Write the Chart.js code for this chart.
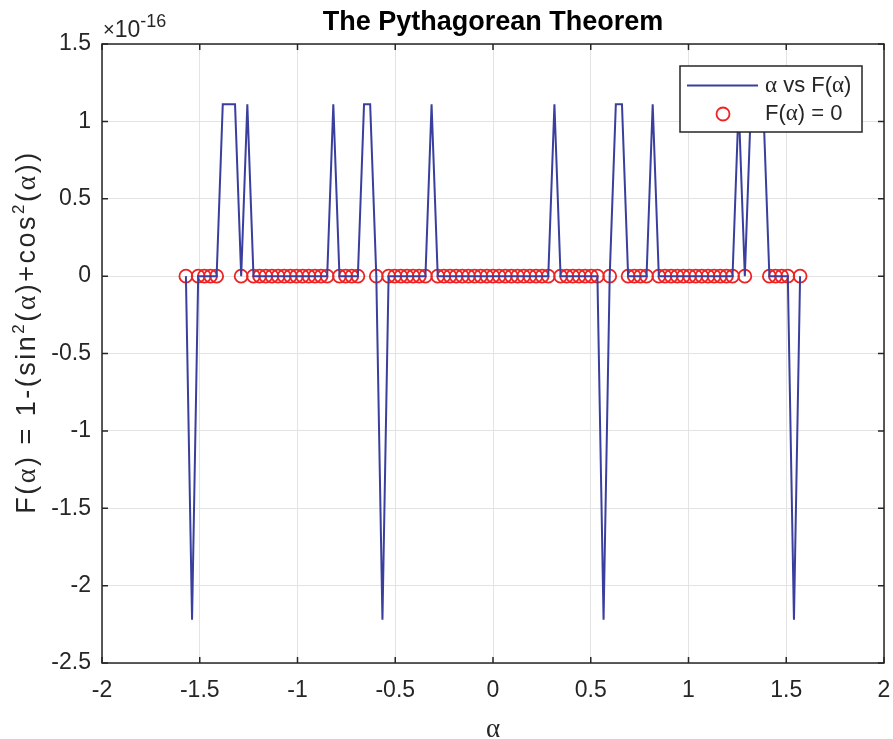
<!DOCTYPE html>
<html>
<head>
<meta charset="utf-8">
<script src="https://cdn.jsdelivr.net/npm/chart.js@4.4.1/dist/chart.umd.min.js"></script>
<style>
  html, body { margin: 0; padding: 0; background: #fff; }
  #wrap { width: 893px; height: 739px; }
</style>
</head>
<body>
<div id="wrap"><canvas id="chart"></canvas></div>
<script>
// alpha samples, -pi/2 .. pi/2 (101 points)
const alpha = [
  -1.5708, -1.5394, -1.5080, -1.4765, -1.4451, -1.4137, -1.3823, -1.3509, -1.3195, -1.2881,
  -1.2566, -1.2252, -1.1938, -1.1624, -1.1310, -1.0996, -1.0681, -1.0367, -1.0053, -0.9739,
  -0.9425, -0.9111, -0.8796, -0.8482, -0.8168, -0.7854, -0.7540, -0.7226, -0.6912, -0.6597,
  -0.6283, -0.5969, -0.5655, -0.5341, -0.5027, -0.4712, -0.4398, -0.4084, -0.3770, -0.3456,
  -0.3142, -0.2827, -0.2513, -0.2199, -0.1885, -0.1571, -0.1257, -0.0942, -0.0628, -0.0314,
   0.0000,  0.0314,  0.0628,  0.0942,  0.1257,  0.1571,  0.1885,  0.2199,  0.2513,  0.2827,
   0.3142,  0.3456,  0.3770,  0.4084,  0.4398,  0.4712,  0.5027,  0.5341,  0.5655,  0.5969,
   0.6283,  0.6597,  0.6912,  0.7226,  0.7540,  0.7854,  0.8168,  0.8482,  0.8796,  0.9111,
   0.9425,  0.9739,  1.0053,  1.0367,  1.0681,  1.0996,  1.1310,  1.1624,  1.1938,  1.2252,
   1.2566,  1.2881,  1.3195,  1.3509,  1.3823,  1.4137,  1.4451,  1.4765,  1.5080,  1.5394,
   1.5708
];

// F(alpha) in units of 1e-16
const fValues = [
  0, -2.22, 0, 0, 0, 0, 1.11, 1.11, 1.11, 0,
  1.11, 0, 0, 0, 0, 0, 0, 0, 0, 0,
  0, 0, 0, 0, 1.11, 0, 0, 0, 0, 1.11,
  1.11, 0, -2.22, 0, 0, 0, 0, 0, 0, 0,
  1.11, 0, 0, 0, 0, 0, 0, 0, 0, 0,
  0, 0, 0, 0, 0, 0, 0, 0, 0, 0,
  1.11, 0, 0, 0, 0, 0, 0, 0, -2.22, 0,
  1.11, 1.11, 0, 0, 0, 0, 1.11, 0, 0, 0,
  0, 0, 0, 0, 0, 0, 0, 0, 0, 0,
  1.11, 0, 1.11, 1.11, 1.11, 0, 0, 0, 0, -2.22,
  0
];

const xTickValues = [-2, -1.5, -1, -0.5, 0, 0.5, 1, 1.5, 2];
const xTickLabels = ['-2', '-1.5', '-1', '-0.5', '0', '0.5', '1', '1.5', '2'];
const yTickValues = [-2.5, -2, -1.5, -1, -0.5, 0, 0.5, 1, 1.5];
const yTickLabels = ['-2.5', '-2', '-1.5', '-1', '-0.5', '0', '0.5', '1', '1.5'];

const lineColor = '#3a3f9e';
const circleColor = '#ee2222';
const axisColor = '#262626';
const sans = "'Liberation Sans', Arial, sans-serif";
const serif = "'Liberation Serif', 'Times New Roman', serif";

const linePts = alpha.map((a, i) => ({ x: a, y: fValues[i] }));
const zeroPts = linePts.filter(p => p.y === 0);

// draws text made of pieces with their own font / vertical shift
function drawRich(ctx, parts, x, y, align) {
  let total = 0;
  parts.forEach(p => { ctx.font = p[1]; total += ctx.measureText(p[0]).width; });
  let cx = align === 'center' ? x - total / 2 : x;
  parts.forEach(p => {
    ctx.font = p[1];
    ctx.fillText(p[0], cx, y + (p[2] || 0));
    cx += ctx.measureText(p[0]).width;
  });
}

const frame = {
  id: 'frame',
  afterDatasetsDraw(chart) {
    const { ctx, chartArea: a, scales: { x, y } } = chart;
    ctx.save();
    ctx.strokeStyle = axisColor;
    ctx.lineWidth = 1.5;
    ctx.beginPath();
    xTickValues.forEach(v => {
      const px = x.getPixelForValue(v);
      ctx.moveTo(px, a.bottom); ctx.lineTo(px, a.bottom - 6);
      ctx.moveTo(px, a.top); ctx.lineTo(px, a.top + 6);
    });
    yTickValues.forEach(v => {
      const py = y.getPixelForValue(v);
      ctx.moveTo(a.left, py); ctx.lineTo(a.left + 6, py);
      ctx.moveTo(a.right, py); ctx.lineTo(a.right - 6, py);
    });
    ctx.stroke();
    ctx.strokeRect(a.left, a.top, a.right - a.left, a.bottom - a.top);
    ctx.restore();
  },
  afterDraw(chart) {
    const { ctx, chartArea: a } = chart;
    const midX = (a.left + a.right) / 2;
    ctx.save();
    ctx.textBaseline = 'alphabetic';

    // title
    ctx.fillStyle = '#000000';
    drawRich(ctx, [['The Pythagorean Theorem', 'bold 27px ' + sans]], midX, 30, 'center');

    ctx.fillStyle = axisColor;
    // exponent above the y axis
    drawRich(ctx, [
      ['\u00d7', '20px ' + sans, -1],
      ['10', '23px ' + sans],
      ['-16', '18px ' + sans, -10]
    ], a.left + 1, 37, 'left');

    // y axis label, rotated
    ctx.save();
    ctx.translate(35, 332);
    ctx.rotate(-Math.PI / 2);
    ctx.letterSpacing = '2.5px';
    const f = '27px ' + sans, g = '28px ' + serif, s = '17px ' + sans;
    drawRich(ctx, [
      ['F(', f], ['\u03b1', g], [') = 1-(sin', f], ['2', s, -11], ['(', f], ['\u03b1', g],
      [')+cos', f], ['2', s, -11], ['(', f], ['\u03b1', g], ['))', f]
    ], 0, 0, 'center');
    ctx.restore();

    // x axis label
    drawRich(ctx, [['\u03b1', '27px ' + serif]], midX, 737, 'center');

    // legend
    const lx = a.right - 204, ly = a.top + 22, lw = 182, lh = 66;
    ctx.fillStyle = '#ffffff';
    ctx.fillRect(lx, ly, lw, lh);
    ctx.strokeStyle = axisColor;
    ctx.lineWidth = 1.5;
    ctx.strokeRect(lx, ly, lw, lh);

    ctx.strokeStyle = lineColor;
    ctx.lineWidth = 2;
    ctx.beginPath();
    ctx.moveTo(lx + 7, ly + 19.5);
    ctx.lineTo(lx + 78, ly + 19.5);
    ctx.stroke();

    ctx.strokeStyle = circleColor;
    ctx.lineWidth = 1.8;
    ctx.beginPath();
    ctx.arc(lx + 43, ly + 48, 6.5, 0, Math.PI * 2);
    ctx.stroke();

    ctx.fillStyle = axisColor;
    ctx.textBaseline = 'middle';
    drawRich(ctx, [['\u03b1', '23px ' + serif], [' vs F(', '22px ' + sans], ['\u03b1', '23px ' + serif], [')', '22px ' + sans]], lx + 85, ly + 20, 'left');
    drawRich(ctx, [['F(', '22px ' + sans], ['\u03b1', '23px ' + serif], [') = 0', '22px ' + sans]], lx + 85, ly + 48, 'left');
    ctx.restore();
  }
};

new Chart(document.getElementById('chart'), {
  type: 'scatter',
  data: {
    datasets: [
      {
        label: '\u03b1 vs F(\u03b1)',
        data: linePts,
        showLine: true,
        borderColor: lineColor,
        borderWidth: 2,
        pointRadius: 0,
        pointHoverRadius: 0,
        tension: 0
      },
      {
        label: 'F(\u03b1) = 0',
        data: zeroPts,
        showLine: false,
        pointStyle: 'circle',
        pointRadius: 6.5,
        pointBorderWidth: 1.8,
        pointBackgroundColor: 'rgba(0,0,0,0)',
        pointBorderColor: circleColor
      }
    ]
  },
  options: {
    responsive: true,
    maintainAspectRatio: false,
    animation: false,
    layout: { padding: { top: 44, right: 9, left: 0, bottom: 0 } },
    plugins: {
      legend: { display: false },
      tooltip: { enabled: false },
      title: { display: false }
    },
    scales: {
      x: {
        type: 'linear',
        min: -2,
        max: 2,
        afterBuildTicks: s => { s.ticks = xTickValues.map(v => ({ value: v })); },
        afterFit: s => { s.height = 76; s.paddingLeft = 0; s.paddingRight = 0; },
        ticks: {
          color: axisColor,
          font: { family: sans, size: 23 },
          padding: 14,
          maxRotation: 0,
          callback: v => xTickLabels[xTickValues.indexOf(v)]
        },
        grid: { color: '#e3e3e3', lineWidth: 1, drawTicks: false },
        border: { display: false }
      },
      y: {
        type: 'linear',
        min: -2.5,
        max: 1.5,
        afterBuildTicks: s => { s.ticks = yTickValues.map(v => ({ value: v })); },
        afterFit: s => { s.width = 102; s.paddingTop = 0; s.paddingBottom = 0; },
        ticks: {
          color: axisColor,
          font: { family: sans, size: 23 },
          padding: 11,
          callback: v => yTickLabels[yTickValues.indexOf(v)]
        },
        grid: { color: '#e3e3e3', lineWidth: 1, drawTicks: false },
        border: { display: false }
      }
    }
  },
  plugins: [frame]
});
</script>
</body>
</html>
